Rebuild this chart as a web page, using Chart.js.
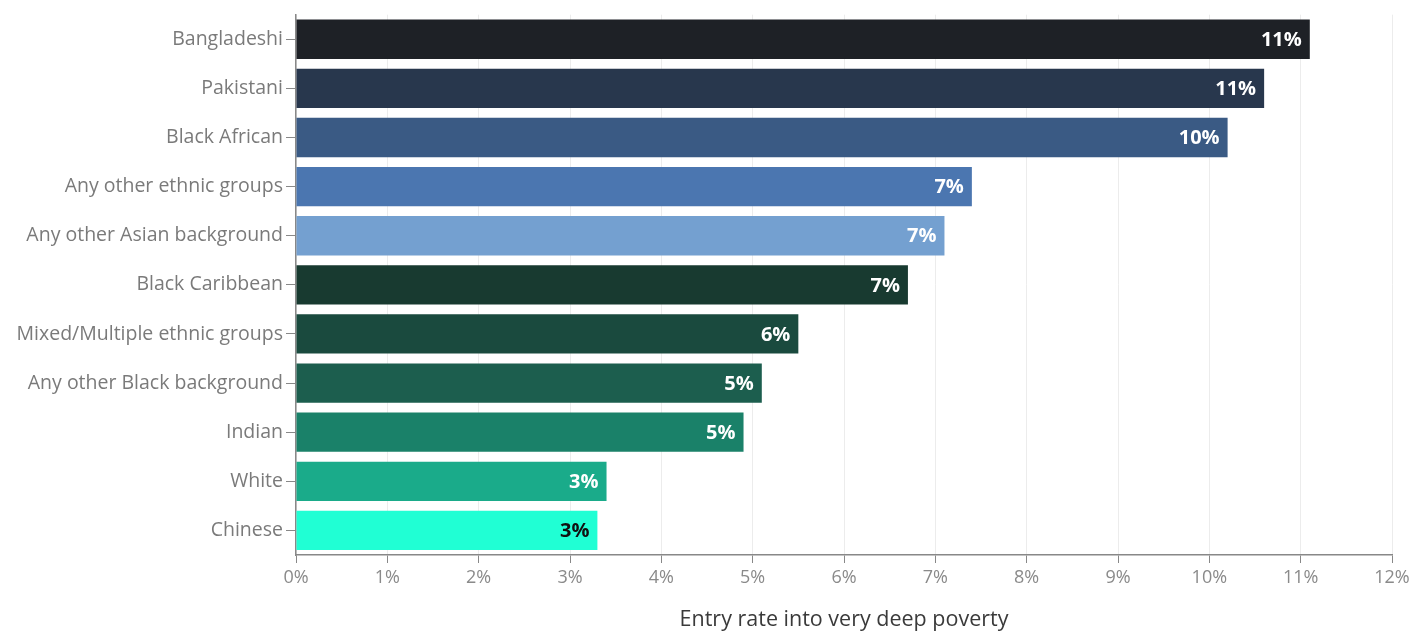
<!DOCTYPE html>
<html>
<head>
<meta charset="utf-8">
<script src="https://cdn.jsdelivr.net/npm/chart.js@4"></script>
<style>
  html, body { margin: 0; padding: 0; background: #fff; }
  #wrap { width: 1424px; height: 633px; }
</style>
</head>
<body>
<div id="wrap"><canvas id="myChart"></canvas></div>
<script>
// chart data
var labels = ['Bangladeshi', 'Pakistani', 'Black African', 'Any other ethnic groups',
  'Any other Asian background', 'Black Caribbean', 'Mixed/Multiple ethnic groups',
  'Any other Black background', 'Indian', 'White', 'Chinese'];
var rates = [11.1, 10.6, 10.2, 7.4, 7.1, 6.7, 5.5, 5.1, 4.9, 3.4, 3.3];
var barColors = ['#1e2126', '#28374d', '#3a5a84', '#4b76b0', '#74a0d0', '#183a30',
  '#1a4a3e', '#1c5e4e', '#1a8169', '#1aab8a', '#20ffd4'];
var labelColors = ['#fff', '#fff', '#fff', '#fff', '#fff', '#fff', '#fff', '#fff', '#fff', '#fff', '#111'];
var xTicks = [0, 1, 2, 3, 4, 5, 6, 7, 8, 9, 10, 11, 12];

var fontFamily = '"Open Sans", "Noto Sans", sans-serif';

// value labels drawn at the end of each bar
var endLabels = {
  id: 'endLabels',
  afterDatasetsDraw: function(chart) {
    var ctx = chart.ctx;
    var meta = chart.getDatasetMeta(0);
    ctx.save();
    ctx.font = 'bold 20px ' + fontFamily;
    ctx.textAlign = 'right';
    ctx.textBaseline = 'middle';
    meta.data.forEach(function(bar, i) {
      ctx.fillStyle = labelColors[i];
      ctx.fillText(Math.round(rates[i]) + '%', bar.x - 8, bar.y + 1);
    });
    ctx.restore();
  }
};

function chartdrawer(ctx) {
  var myChart = new Chart(ctx, {
    type: 'bar',
    data: {
      labels: labels,
      datasets: [{
        data: rates,
        backgroundColor: barColors,
        borderWidth: 0,
        barPercentage: 0.8,
        categoryPercentage: 1
      }]
    },
    options: {
      indexAxis: 'y',
      responsive: true,
      maintainAspectRatio: false,
      animation: false,
      layout: { padding: { top: 13, right: 32, bottom: 0, left: 0 } },
      plugins: {
        legend: { display: false },
        tooltip: { enabled: false }
      },
      scales: {
        x: {
          min: 0,
          max: 12,
          afterBuildTicks: function(scale) {
            scale.ticks = xTicks.map(function(v) { return { value: v }; });
          },
          afterFit: function(scale) { scale.height = 78; },
          ticks: {
            color: '#8a8a8a',
            font: { family: fontFamily, size: 18 },
            padding: 4,
            callback: function(v) { return v + '%'; }
          },
          grid: {
            color: '#ececec',
            tickColor: '#888',
            tickLength: 8,
            drawTicks: true
          },
          border: { color: '#888', width: 1.5 },
          title: {
            display: true,
            text: 'Entry rate into very deep poverty',
            color: '#3a3a3a',
            font: { family: fontFamily, size: 21.5, weight: '500' },
            padding: { top: 0, bottom: 0 }
          }
        },
        y: {
          afterFit: function(scale) { scale.width = 296; },
          ticks: {
            color: '#7a7a7a',
            font: { family: fontFamily, size: 19.5 },
            padding: 3
          },
          grid: {
            display: true,
            offset: false,
            drawOnChartArea: false,
            tickColor: '#888',
            tickLength: 10
          },
          border: { color: '#888', width: 1.5 }
        }
      }
    },
    plugins: [endLabels]
  });
}

var ctx = document.getElementById('myChart').getContext('2d');
chartdrawer(ctx);
</script>
</body>
</html>
